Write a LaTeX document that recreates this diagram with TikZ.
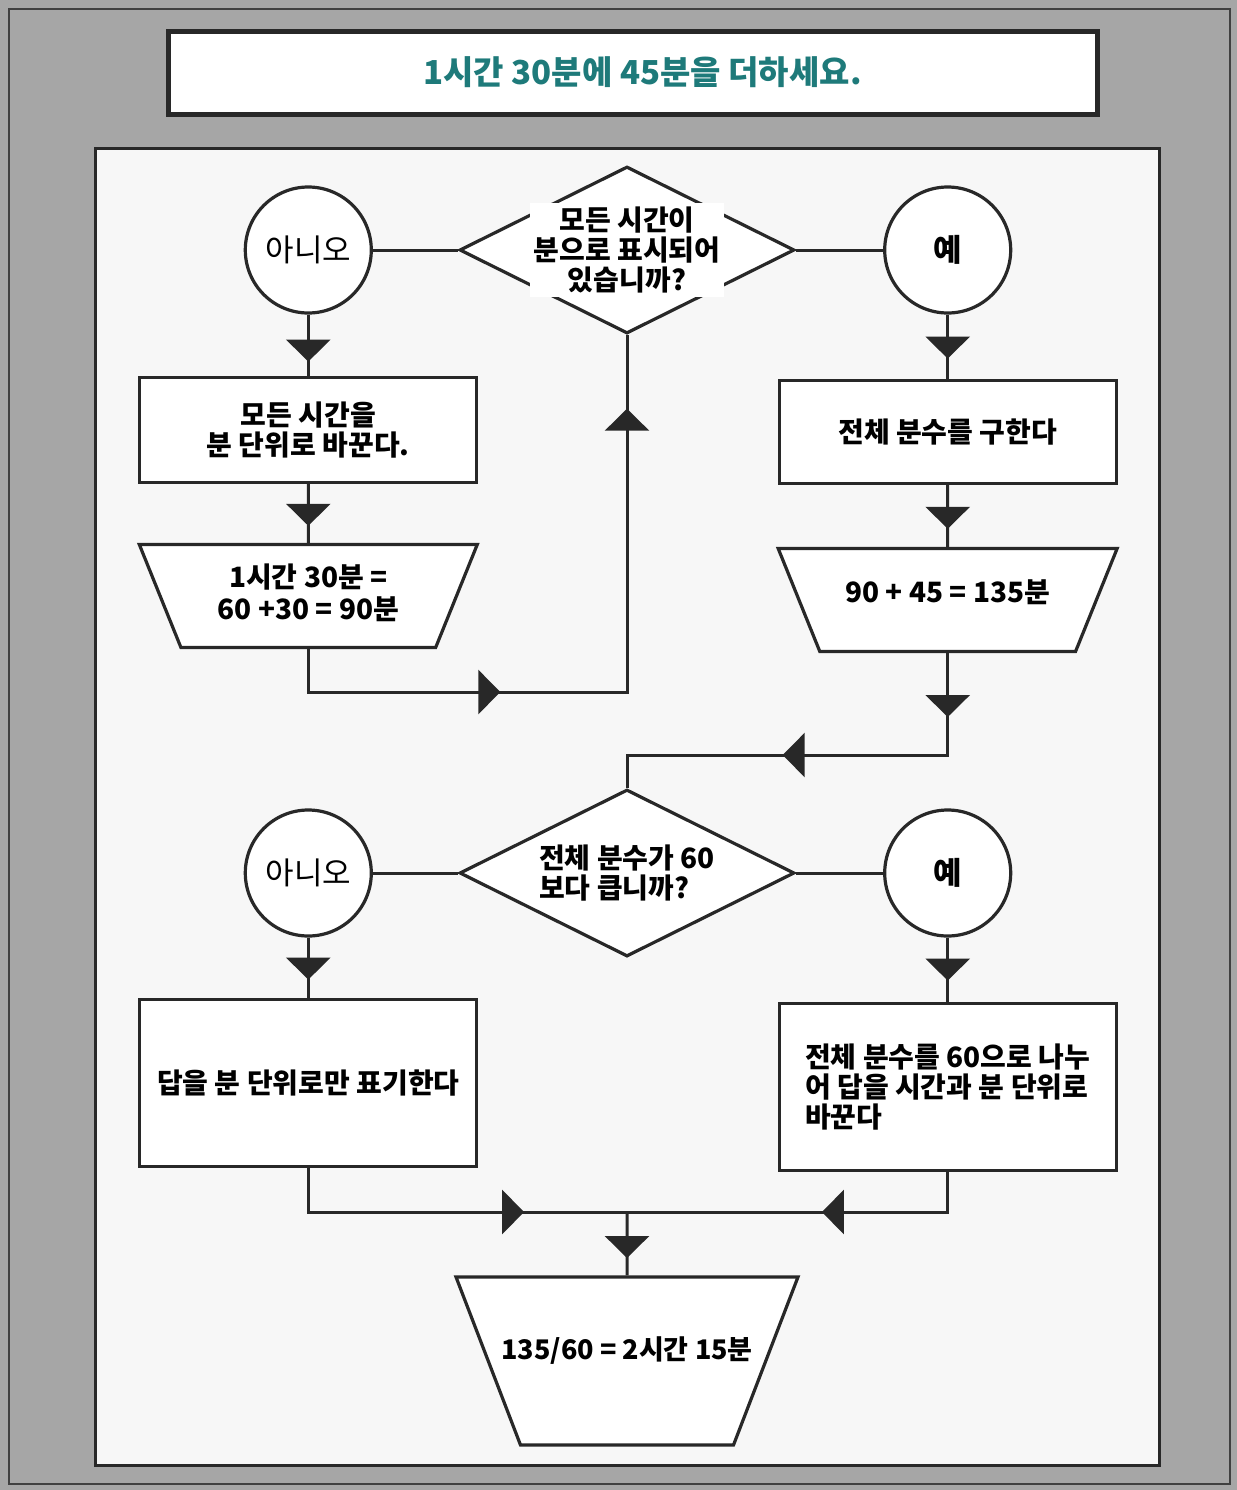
\documentclass[tikz,border=0pt]{standalone}
\usepackage{fontspec}
\setmainfont{Noto Sans CJK KR}
\usepackage{xcolor}
\usetikzlibrary{positioning,shapes.geometric,arrows.meta,decorations.markings}
\definecolor{titleteal}{RGB}{30,122,122}
\definecolor{bandgray}{RGB}{166,166,166}
\definecolor{panelwhite}{RGB}{247,247,247}
\definecolor{ink}{RGB}{40,40,40}
% text block of fixed size for the trapezium boxes
\newcommand{\iotext}[3]{\parbox[c][#2][c]{#1}{\centering\makebox[0pt]{\begin{tabular}{@{}c@{}}#3\end{tabular}}}}

\begin{document}
\begin{tikzpicture}[
  x=0.5pt, y=-0.5pt,
  txt/.style={font=\bfseries\fontsize{14}{15}\selectfont},
  procbox/.style={draw=ink, line width=1.6pt, fill=white, minimum width=168.5pt, minimum height=52.5pt, align=center, txt},
  iobox/.style={draw=ink, line width=1.6pt, fill=white, trapezium, shape border rotate=180, trapezium angle=68, trapezium stretches=true, inner sep=0pt, txt},
  decision/.style={draw=ink, line width=1.6pt, fill=white, diamond, aspect=2, minimum width=167.5pt, minimum height=83.5pt, inner sep=0pt, align=left, txt},
  qlabel/.style={fill=white, inner sep=2pt, align=center, txt},
  answer/.style={draw=ink, line width=1.6pt, fill=white, circle, minimum size=63pt, inner sep=0pt, font=\fontsize{15.5}{17}\selectfont},
  link/.style={draw=ink, line width=1.5pt},
  flow/.style={link, postaction=decorate},
  tipat/.style={decoration={markings, mark=at position #1 with {\arrow[ink]{Triangle[length=11pt,width=22pt]}}}}
]
% frame and panels
\fill[bandgray] (0,0) rectangle (1237,1490);
\draw[line width=1.2pt, black!75] (9,9) rectangle (1230,1484);
\useasboundingbox (0,0) rectangle (1237,1490);
\node[draw=ink, line width=2.5pt, fill=white, minimum width=464.5pt, minimum height=41.5pt, font=\bfseries\fontsize{16.5}{18}\selectfont, text=titleteal] (title) at (632.5,72.5) {\hspace{10pt}1시간 30분에 45분을 더하세요.};
\node[draw=ink, line width=1.5pt, fill=panelwhite, minimum width=532pt, minimum height=658.5pt] (panel) at (627,806.5) {};

% first question
\node[decision, label={[qlabel]center:{모든 시간이\\분으로 표시되어\\있습니까?}}] (q1) at (627,250) {};
\node[answer, left=42.5pt of q1] (no1) {아니오};
\node[answer, right=43.5pt of q1] (yes1) {\bfseries 예};
\node[procbox, below=30.5pt of no1] (box1) {모든 시간을\\분 단위로 바꾼다.};
\node[iobox, below=29.5pt of box1] (io1) {\iotext{127.4pt}{51.5pt}{1시간 30분 =\\60 +30 = 90분}};
\node[procbox, minimum height=51.5pt, below=32pt of yes1] (box2) {전체 분수를 구한다};
\node[iobox, below=31pt of box2] (io2) {\iotext{127.9pt}{51.5pt}{\raisebox{4pt}{90 + 45 = 135분}}};

% second question
\node[decision] (q2) at (627,873) {전체 분수가 60\\보다 큽니까?};
\node[answer, left=42.5pt of q2] (no2) {아니오};
\node[answer, right=43.5pt of q2] (yes2) {\bfseries 예};
\node[procbox, minimum height=83.5pt, below=30pt of no2] (box3) {답을 분 단위로만 표기한다};
\node[procbox, minimum height=83.5pt, align=left, below=32pt of yes2] (box4) {전체 분수를 60으로 나누\\어 답을 시간과 분 단위로\\바꾼다};
\coordinate (merge) at (627,1212);
\node[iobox, trapezium angle=69] (io3) at (627,1361) {\iotext{106.5pt}{84pt}{\raisebox{8pt}{\fontsize{13.5}{15}\selectfont 135/60 = 2시간 15분}}};

% connectors
\draw[link] (no1) -- (q1);
\draw[link] (q1) -- (yes1);
\draw[flow, tipat=23.5pt] (no1) -- (box1);
\draw[flow, tipat=21pt] (box1) -- (io1);
\draw[flow, tipat=117.5pt, tipat=322.5pt] (io1.south) -- ++(0,43) -| (q1.south);
\draw[flow, tipat=22pt] (yes1) -- (box2);
\draw[flow, tipat=22pt] (box2) -- (io2);
\draw[flow, tipat=32pt, tipat=133.5pt] (io2.south) -- ++(0,102) -| (q2.north);
\draw[link] (no2) -- (q2);
\draw[link] (q2) -- (yes2);
\draw[flow, tipat=21pt] (no2) -- (box3);
\draw[flow, tipat=21.5pt] (yes2) -- (box4);
\draw[flow, tipat=130pt] (box3.south) |- (merge);
\draw[flow, tipat=83pt] (box4.south) |- (merge);
\draw[flow, tipat=23pt] (merge) -- (io3.north);
\end{tikzpicture}
\end{document}
